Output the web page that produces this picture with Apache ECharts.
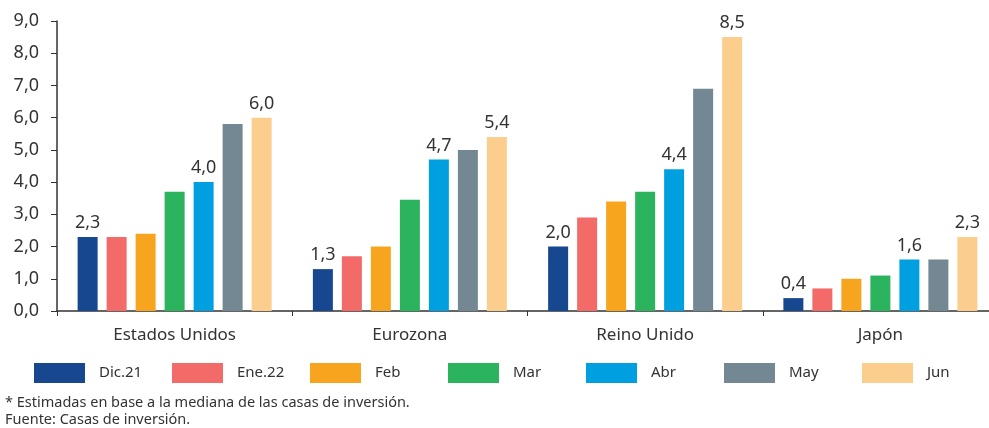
<!DOCTYPE html>
<html>
<head>
<meta charset="utf-8">
<script src="https://cdn.jsdelivr.net/npm/echarts@6/dist/echarts.min.js"></script>
<style>
  html, body { margin: 0; padding: 0; background: #fff; }
  #chart { width: 989px; height: 428px; }
</style>
</head>
<body>
<div id="chart"></div>
<script>
const categories = ['Estados Unidos', 'Eurozona', 'Reino Unido', 'Japón']
const seriesNames = ['Dic.21', 'Ene.22', 'Feb', 'Mar', 'Abr', 'May', 'Jun']
const dic21 = [2.3, 1.3, 2.0, 0.4]
const ene22 = [2.3, 1.7, 2.9, 0.7]
const feb = [2.4, 2.0, 3.4, 1.0]
const mar = [3.7, 3.45, 3.7, 1.1]
const abr = [4.0, 4.7, 4.4, 1.6]
const may = [5.8, 5.0, 6.9, 1.6]
const jun = [6.0, 5.4, 8.5, 2.3]
const yTicks = { min: 0, max: 9, interval: 1 }
// only these series carry value labels
const labelled = ['Dic.21', 'Abr', 'Jun']

const colors = ['#17478f', '#f26b68', '#f7a41f', '#2bb35e', '#00a0e0', '#748893', '#fcce8e']
const values = [dic21, ene22, feb, mar, abr, may, jun]
const font = '"Noto Sans", sans-serif'
const comma = v => v.toFixed(1).replace('.', ',')

const chart = echarts.init(document.getElementById('chart'))

const series = seriesNames.map((name, i) => ({
  name: name,
  type: 'bar',
  data: values[i],
  barWidth: 20,
  barGap: '45%',
  barCategoryGap: '17%',
  itemStyle: { color: colors[i] },
  label: {
    show: labelled.includes(name),
    position: 'top',
    distance: 5,
    color: '#333',
    fontSize: 18,
    fontFamily: font,
    formatter: p => comma(p.value)
  }
}))

const legends = seriesNames.map((name, i) => ({
  data: [name],
  left: 34 + 138 * i,
  top: 363,
  padding: 0,
  itemWidth: 51,
  itemHeight: 20,
  icon: 'rect',
  textStyle: { color: '#333', fontSize: 15, fontFamily: font, padding: [0, 0, 0, 9] },
  selectedMode: false
}))

chart.setOption({
  animation: false,
  grid: { left: 57, top: 21, right: -9, bottom: 117, outerBoundsMode: 'none' },
  legend: legends,
  xAxis: {
    type: 'category',
    data: categories,
    axisLine: { lineStyle: { color: '#333', width: 1.5 } },
    axisTick: { show: true, length: 5, lineStyle: { color: '#333' } },
    axisLabel: { color: '#333', fontSize: 17, fontFamily: font, margin: 16 }
  },
  yAxis: {
    type: 'value',
    min: yTicks.min,
    max: yTicks.max,
    interval: yTicks.interval,
    axisLine: { show: true, lineStyle: { color: '#333', width: 1.5 } },
    axisTick: { show: true, length: 6, lineStyle: { color: '#333' } },
    splitLine: { show: false },
    axisLabel: { color: '#333', fontSize: 18, fontFamily: font, margin: 18, formatter: v => comma(v) }
  },
  graphic: [
    { type: 'text', left: 5, top: 395, style: { text: '* Estimadas en base a la mediana de las casas de inversión.', fill: '#333', fontSize: 14.5, fontFamily: font } },
    { type: 'text', left: 5, top: 412, style: { text: 'Fuente: Casas de inversión.', fill: '#333', fontSize: 14.5, fontFamily: font } }
  ],
  series: series
})
</script>
</body>
</html>
